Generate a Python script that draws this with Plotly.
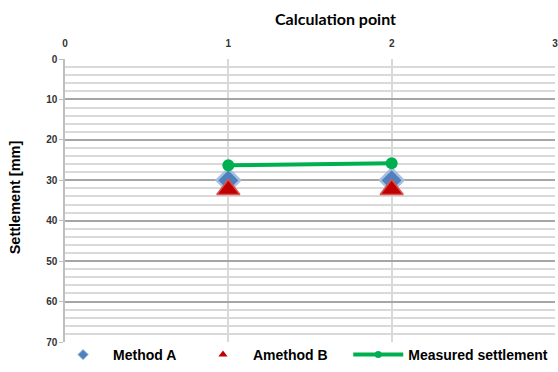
import plotly.graph_objects as go

points = [1, 2]
method_a = [30, 30]
method_b = [32.3, 32.3]
measured = [26.3, 25.8]
x_ticks = [0, 1, 2, 3]
y_ticks = [0, 10, 20, 30, 40, 50, 60, 70]

NB = "\u00a0"
fig = go.Figure()

fig.add_trace(go.Scatter(x=points, y=method_a, mode="markers", name="Method A", showlegend=False,
                         marker=dict(symbol="diamond", size=18, color="#4F81BD",
                                     line=dict(color="#A7C0E0", width=2.5))))
fig.add_trace(go.Scatter(x=points, y=method_b, mode="markers", name="Amethod B", showlegend=False,
                         marker=dict(symbol="triangle-up", size=20, color="#C00000",
                                     line=dict(color="#D9534F", width=1.5))))
fig.add_trace(go.Scatter(x=points, y=measured, mode="lines+markers", name="Measured settlement",
                         showlegend=False,
                         line=dict(color="#00B050", width=4),
                         marker=dict(symbol="circle", size=12, color="#00B050")))

# legend entries
fig.add_trace(go.Scatter(x=[None], y=[None], mode="markers", name="Method A" + NB * 3,
                         marker=dict(symbol="diamond", size=8, color="#4F81BD",
                                     line=dict(color="#A7C0E0", width=1))))
fig.add_trace(go.Scatter(x=[None], y=[None], mode="markers", name="Amethod B" + NB * 4,
                         marker=dict(symbol="triangle-up", size=8, color="#C00000",
                                     line=dict(color="#C00000", width=0))))
fig.add_trace(go.Scatter(x=[None], y=[None], mode="lines+markers", name="Measured settlement",
                         line=dict(color="#00B050", width=4),
                         marker=dict(symbol="circle", size=7, color="#00B050")))

fig.update_layout(
    width=558, height=372,
    margin=dict(l=65, r=0, t=59, b=30),
    paper_bgcolor="white", plot_bgcolor="white",
    font=dict(family="Liberation Sans, Arial, sans-serif", color="#000000"),
    showlegend=True,
    legend=dict(orientation="h", xref="paper", yref="paper",
                x=(53 - 65) / 493, xanchor="left", y=-(355 - 342) / 283, yanchor="middle",
                font=dict(size=14, family="Liberation Sans, Arial, sans-serif", weight="bold"),
                traceorder="normal", itemwidth=50, bgcolor="rgba(0,0,0,0)"),
    xaxis=dict(
        side="top", range=[0, 3], tickvals=x_ticks, ticktext=[f"<b>{v}</b>" for v in x_ticks],
        showgrid=True, gridcolor="#D9D9D9", gridwidth=1.5,
        zeroline=False, showline=False, ticks="", ticklabelstandoff=9,
        ticklabeloverflow="allow",
        tickfont=dict(size=10, family="Liberation Sans, sans-serif", color="#333333"),
    ),
    yaxis=dict(
        range=[70, 0], tickvals=y_ticks, ticktext=[f"<b>{v}</b>" for v in y_ticks],
        showgrid=True, gridcolor="#A6A6A6", gridwidth=1.5,
        minor=dict(dtick=2, tick0=0, showgrid=True, gridcolor="#D9D9D9", gridwidth=1.5, ticks=""),
        zeroline=False, showline=True, linecolor="#BFBFBF", linewidth=1.5,
        ticks="outside", ticklen=4, tickcolor="#BFBFBF",
        tickfont=dict(size=10, family="Liberation Sans, sans-serif", color="#333333"),
    ),
    annotations=[
        dict(text="<b>Calculation point</b>", xref="paper", yref="paper",
             x=(337 - 65) / 493, y=1 + (59 - 18) / 283, xanchor="center", yanchor="middle",
             showarrow=False, font=dict(size=16, family="Lato, sans-serif", color="#000000")),
        dict(text="<b>Settlement [mm]</b>", xref="paper", yref="paper", textangle=-90,
             x=-(65 - 15) / 493, y=1 - (197 - 59) / 283, xanchor="center", yanchor="middle",
             showarrow=False, font=dict(size=14.5, family="Liberation Sans, sans-serif", color="#000000")),
    ],
)

fig.write_html("out.html")
